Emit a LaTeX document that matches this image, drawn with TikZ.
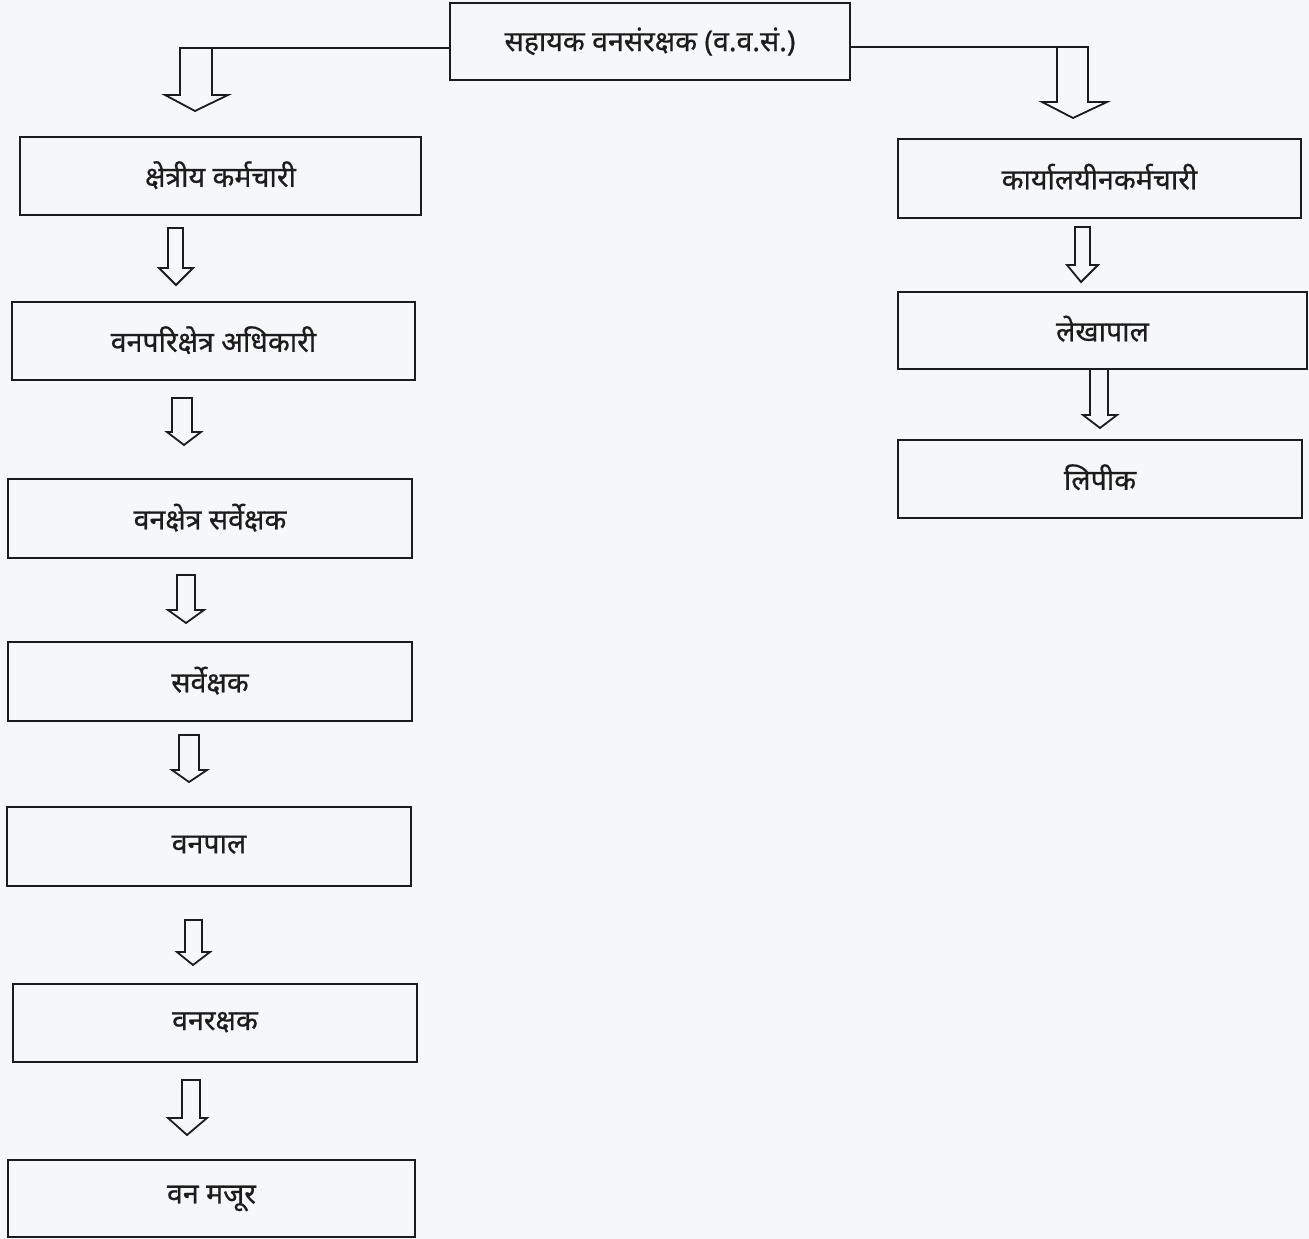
\documentclass[tikz,border=0pt]{standalone}
\usepackage{fontspec}
\newfontfamily\deva[Script=Devanagari,FakeBold=0.6]{Noto Sans}
\definecolor{bgc}{RGB}{246,247,249}
\definecolor{inkc}{RGB}{28,28,28}
\tikzset{
  box/.style={draw=inkc, line width=2.2pt, fill=none, inner sep=0pt,
    font=\deva\fontsize{28.5}{32}\selectfont, text=inkc},
  arrowline/.style={draw=inkc, line width=1.8pt, line join=miter},
}
\newcommand{\blockdown}[8]{%
  \draw[arrowline] (#1,#3) -- (#1,#4) -- (#5,#4) -- (#7,#8) -- (#6,#4) -- (#2,#4) -- (#2,#3) -- cycle;}
\newcommand{\lbl}[1]{\raisebox{4pt}{#1}}
\begin{document}
\begin{tikzpicture}[x=1pt,y=-1pt]
\fill[bgc] (0,0) rectangle (1309,1239);
\useasboundingbox (0,0) rectangle (1309,1239);

% boxes
\node[box, minimum width=400pt, minimum height=77pt] (top) at (650,41.5) {\lbl{सहायक वनसंरक्षक (व.व.सं.)}};
\node[box, minimum width=401pt, minimum height=78pt] (l1) at (220.5,176) {\lbl{क्षेत्रीय कर्मचारी}};
\node[box, minimum width=403pt, minimum height=78pt] (l2) at (213.5,341) {\lbl{वनपरिक्षेत्र अधिकारी}};
\node[box, minimum width=404pt, minimum height=79pt] (l3) at (210,518.5) {\lbl{वनक्षेत्र सर्वेक्षक}};
\node[box, minimum width=404pt, minimum height=79pt] (l4) at (210,681.5) {\lbl{सर्वेक्षक}};
\node[box, minimum width=404pt, minimum height=79pt] (l5) at (209,846.5) {\lbl{वनपाल}};
\node[box, minimum width=404pt, minimum height=78pt] (l6) at (215,1023) {\lbl{वनरक्षक}};
\node[box, minimum width=407pt, minimum height=77pt] (l7) at (211.5,1198.5) {\lbl{वन मजूर}};
\node[box, minimum width=403pt, minimum height=79pt] (r1) at (1099.5,178.5) {\lbl{कार्यालयीनकर्मचारी}};
\node[box, minimum width=409pt, minimum height=77pt] (r2) at (1102.5,330.5) {\lbl{लेखापाल}};
\node[box, minimum width=404pt, minimum height=78pt] (r3) at (1100,479) {\lbl{लिपीक}};

% top connectors
\draw[arrowline] (top.west |- 0,48) -- (180,48) -- (180,95) -- (165,95) -- (195,111) -- (228,95) -- (212,95) -- (212,48);
\draw[arrowline] (top.east |- 0,47) -- (1088,47) -- (1088,102) -- (1107,102) -- (1073,118) -- (1042,102) -- (1057,102) -- (1057,47);

% left chain
\blockdown{168}{183}{228}{268}{159}{193}{176}{285}
\blockdown{172}{192}{398}{432}{167}{201}{184}{445}
\blockdown{177}{195}{575}{610}{168}{204}{186}{623}
\blockdown{179}{199}{735}{770}{172}{207}{189}{782}
\blockdown{185}{202}{920}{952}{177}{210}{193}{965}
\blockdown{182}{200}{1080}{1118}{168}{207}{187}{1135}

% right chain
\blockdown{1075}{1090}{227}{265}{1067}{1098}{1081}{282}
\draw[arrowline] (1090,369) -- (1090,415) -- (1083,415) -- (1100,428) -- (1117,415) -- (1108,415) -- (1108,369);
\end{tikzpicture}
\end{document}
